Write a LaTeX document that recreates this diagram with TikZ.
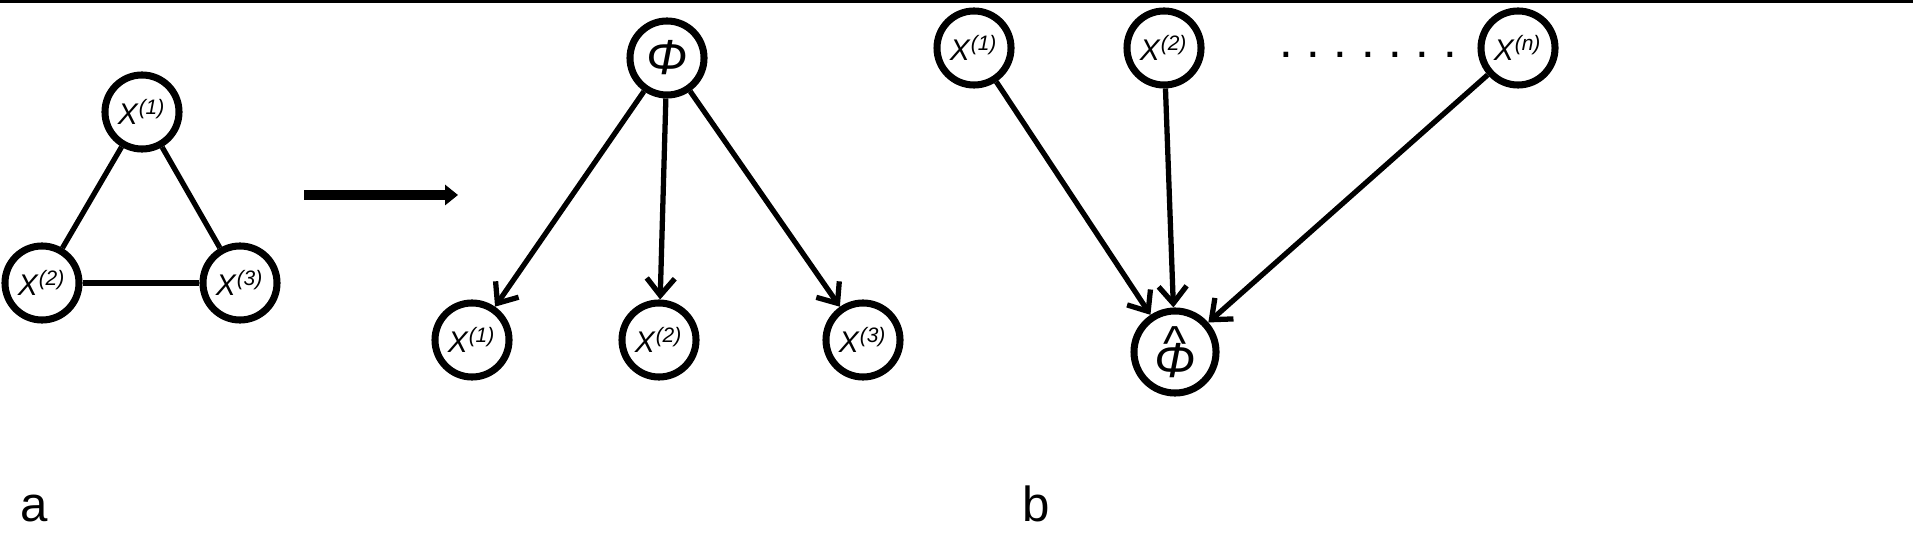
\documentclass[tikz,border=0pt]{standalone}
\usepackage{fontspec}
\setmainfont{Liberation Sans}
\usetikzlibrary{arrows.meta}
\newcommand{\xv}[1]{\textit{X}\textsuperscript{\textit{(#1)}}}
\begin{document}
\begin{tikzpicture}
[
x=0.01cm, y=-0.01cm,
var-a/.style={circle, draw, line width=2pt, minimum size=7.4mm, inner sep=0pt, font=\fontsize{8.5}{9}\selectfont},
edge-a/.style={line width=1.5pt},
edge-b/.style={line width=1.5pt, -{Straight Barb[length=1.7mm, width=2.8mm]}},
text-a/.style={font=\fontsize{14}{14}\selectfont}
]
\useasboundingbox (0,0) rectangle (1913,534);
\draw [line width=1pt] (0,1) -- (1913,1);
% part a
\node (a-1)   [var-a] at (142,112) {\xv{1}};
\node (a-2)   [var-a] at (42,283)  {\xv{2}};
\node (a-3)   [var-a] at (240,283) {\xv{3}};
\draw [edge-a] (a-1) -- (a-2);
\draw [edge-a] (a-1) -- (a-3);
\draw [edge-a] (a-2) -- (a-3);
\coordinate (go-s) at (304,195);
\coordinate (go-e) at (458,195);
\draw [line width=2.6pt, -{Triangle[length=1.3mm, width=2mm]}] (go-s) -- (go-e);
\node (phi)   [var-a, font=\fontsize{14}{14}\selectfont] at (667,58) {\textit{Φ}};
\node (c-1)   [var-a] at (472,340) {\xv{1}};
\node (c-2)   [var-a] at (659,340) {\xv{2}};
\node (c-3)   [var-a] at (863,340) {\xv{3}};
\foreach \i in {1,2,3} \draw [edge-b] (phi) -- (c-\i);
% part b
\node (b-1)   [var-a] at (974,48)  {\xv{1}};
\node (b-2)   [var-a] at (1164,48) {\xv{2}};
\node (b-n)   [var-a] at (1518,48) {\xv{n}};
\node (dots)  [text-a] at (1368,55) {.\ .\ .\ .\ .\ .\ .};
\node (phihat) [var-a, minimum size=8.2mm, align=center, font=\fontsize{14}{10}\selectfont] at (1175,352) {\raisebox{0mm}{\^{}}\\[-1.8mm]\textit{Φ}};
\foreach \i in {1,2,n} \draw [edge-b] (b-\i) -- (phihat);
\node (lab-a) [text-a, anchor=south west] at (8,534) {a};
\node (lab-b) [text-a, anchor=south west] at (1010,534) {b};
\end{tikzpicture}
\end{document}
